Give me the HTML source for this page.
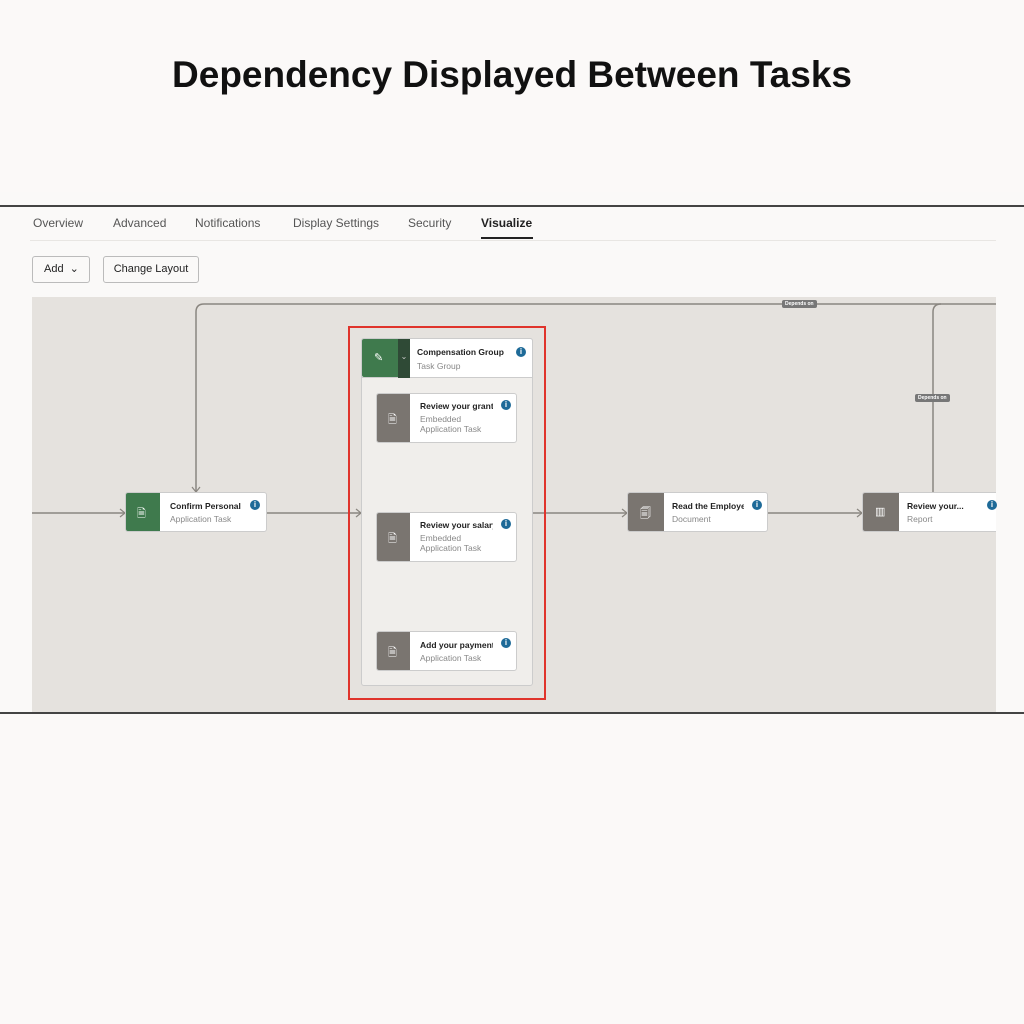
<!DOCTYPE html>
<html><head><style>
body{margin:0;width:1024px;height:1024px;background:#fbf9f8;font-family:"Liberation Sans",sans-serif;position:relative;overflow:hidden}
.a{position:absolute}
h1{position:absolute;top:54px;left:0;width:1024px;text-align:center;margin:0;font-size:37px;font-weight:bold;color:#111}
.tab{position:absolute;top:216px;font-size:12px;color:#555}
.node{position:absolute;background:#fff;border:1px solid #ccc;border-radius:3px;box-sizing:border-box}
.ic{position:absolute;left:0;top:0;bottom:0;background:#7a7570;border-radius:2px 0 0 2px}
.t{position:absolute;font-size:8.5px;font-weight:bold;color:#222;white-space:nowrap;overflow:hidden}
.s{position:absolute;font-size:8.5px;color:#888;line-height:10px}
.i{position:absolute;width:10px;height:10px;border-radius:50%;background:#1e6a98;color:#fff;font-size:8px;font-weight:bold;text-align:center;line-height:10px}
.lab{position:absolute;background:#777;color:#fff;font-size:5px;border-radius:2px;padding:1px 3px;font-weight:bold}
</style></head><body>
<h1>Dependency Displayed Between Tasks</h1>
<div class="a" style="left:0;top:192px;width:1024px;height:522px;background:#faf9f8"></div>
<div class="a" style="left:0;top:205px;width:1024px;height:2px;background:#444"></div>
<div class="a" style="left:0;top:712px;width:1024px;height:2px;background:#444"></div>
<div class="tab" style="left:33px">Overview</div>
<div class="tab" style="left:113px">Advanced</div>
<div class="tab" style="left:195px">Notifications</div>
<div class="tab" style="left:293px">Display Settings</div>
<div class="tab" style="left:408px">Security</div>
<div class="tab" style="left:481px;color:#222;font-weight:bold">Visualize</div>
<div class="a" style="left:481px;top:237px;width:52px;height:2px;background:#222"></div>
<div class="a" style="left:30px;top:240px;width:966px;height:1px;background:#e8e6e3"></div>
<div class="a" style="left:32px;top:256px;width:58px;height:27px;border:1px solid #bbb;border-radius:3px;box-sizing:border-box;font-size:11px;line-height:25px;padding-left:11px;color:#222">Add &nbsp;⌄</div>
<div class="a" style="left:103px;top:256px;width:96px;height:27px;border:1px solid #bbb;border-radius:3px;box-sizing:border-box;font-size:11px;line-height:25px;text-align:center;color:#222">Change Layout</div>
<div class="a" style="left:32px;top:297px;width:964px;height:415px;background:#e5e2de"></div>
<svg class="a" style="left:0;top:0" width="1024" height="1024">
<g fill="none" stroke="#8a8680" stroke-width="1.5">
<path d="M32 513H125M267 513H361M533 513H627M768 513H862"/>
<path d="M196 492V312Q196 304 204 304H996"/>
<path d="M933 492V312Q933 304 941 304"/>
<path d="M446 442V512M446 561V631"/>
</g>
<g fill="none" stroke="#8a8680" stroke-width="1.2">
<path d="M120 509l5 4-5 4M356 509l5 4-5 4M622 509l5 4-5 4M857 509l5 4-5 4M192 487l4 5 4-5M442 507l4 5 4-5M442 626l4 5 4-5"/>
</g>
</svg>
<div class="lab" style="left:782px;top:300px">Depends on</div>
<div class="lab" style="left:915px;top:394px">Depends on</div>
<div class="a" style="left:348px;top:326px;width:198px;height:374px;border:2px solid #e0342c;box-sizing:border-box"></div>
<div class="node" style="left:361px;top:338px;width:172px;height:348px;background:#f0eeeb"></div>
<div class="node" style="left:361px;top:338px;width:172px;height:40px;border-radius:3px 3px 0 0">
<div class="ic" style="width:36px;background:#3f7a4d"></div><div class="a" style="left:36px;top:0;width:12px;height:39px;background:#2f4a36;color:#ccc;font-size:8px;text-align:center;line-height:36px">⌄</div>
<div class="a" style="left:12px;top:12px;color:#fff;font-size:11px">✎</div>
<div class="t" style="left:55px;top:8px;width:92px">Compensation Group</div><div class="s" style="left:55px;top:22px">Task Group</div><div class="i" style="left:154px;top:8px">i</div></div>
<div class="node" style="left:376px;top:393px;width:141px;height:50px"><div class="ic" style="width:33px"></div><div class="a" style="left:11px;top:17px;color:#fff;font-size:11px">🗎</div>
<div class="t" style="left:43px;top:7px;width:73px">Review your grant</div><div class="s" style="left:43px;top:20px">Embedded<br>Application Task</div><div class="i" style="left:124px;top:6px">i</div></div>
<div class="node" style="left:376px;top:512px;width:141px;height:50px"><div class="ic" style="width:33px"></div><div class="a" style="left:11px;top:17px;color:#fff;font-size:11px">🗎</div>
<div class="t" style="left:43px;top:7px;width:73px">Review your salary</div><div class="s" style="left:43px;top:20px">Embedded<br>Application Task</div><div class="i" style="left:124px;top:6px">i</div></div>
<div class="node" style="left:376px;top:631px;width:141px;height:40px"><div class="ic" style="width:33px"></div><div class="a" style="left:11px;top:12px;color:#fff;font-size:11px">🗎</div>
<div class="t" style="left:43px;top:8px;width:73px">Add your payment</div><div class="s" style="left:43px;top:21px">Application Task</div><div class="i" style="left:124px;top:6px">i</div></div>
<div class="node" style="left:125px;top:492px;width:142px;height:40px"><div class="ic" style="width:34px;background:#3f7a4d"></div><div class="a" style="left:11px;top:12px;color:#fff;font-size:11px">🗎</div>
<div class="t" style="left:44px;top:8px;width:72px">Confirm Personal</div><div class="s" style="left:44px;top:21px">Application Task</div><div class="i" style="left:124px;top:7px">i</div></div>
<div class="node" style="left:627px;top:492px;width:141px;height:40px"><div class="ic" style="width:36px"></div><div class="a" style="left:12px;top:12px;color:#fff;font-size:11px">🗐</div>
<div class="t" style="left:44px;top:8px;width:72px">Read the Employee</div><div class="s" style="left:44px;top:21px">Document</div><div class="i" style="left:124px;top:7px">i</div></div>
<div class="node" style="left:862px;top:492px;width:134px;height:40px;border-right:none;border-radius:3px 0 0 3px"><div class="ic" style="width:36px"></div><div class="a" style="left:12px;top:12px;color:#fff;font-size:11px">▥</div>
<div class="t" style="left:44px;top:8px;width:72px">Review your...</div><div class="s" style="left:44px;top:21px">Report</div><div class="i" style="left:124px;top:7px">i</div></div>
</body></html>
